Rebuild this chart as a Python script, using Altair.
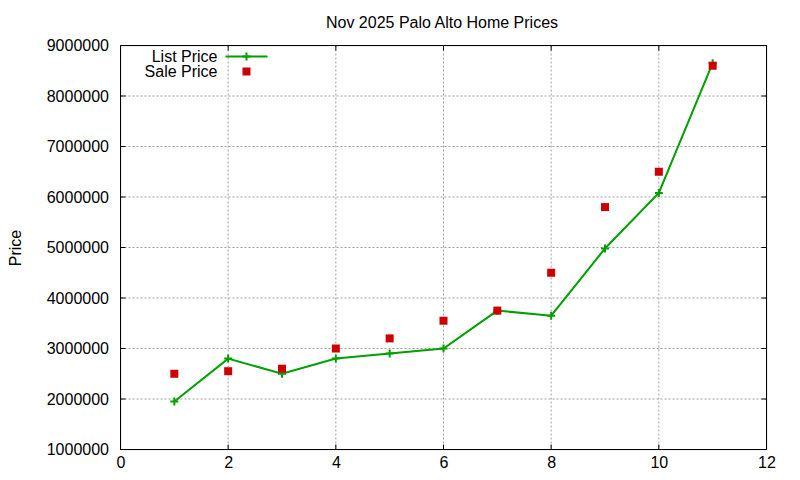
import altair as alt
import pandas as pd

# ---- data ----
house = [1, 2, 3, 4, 5, 6, 7, 8, 9, 10, 11]
list_price = [1950000, 2800000, 2500000, 2800000, 2900000, 3000000,
              3750000, 3650000, 4980000, 6080000, 8650000]
sale_price = [2500000, 2550000, 2600000, 3000000, 3200000, 3550000,
              3750000, 4500000, 5800000, 6500000, 8600000]

x_ticks = [0, 2, 4, 6, 8, 10, 12]
y_ticks = [1000000, 2000000, 3000000, 4000000, 5000000,
           6000000, 7000000, 8000000, 9000000]
x_grid = [2, 4, 6, 8, 10]
y_grid = [2000000, 3000000, 4000000, 5000000, 6000000, 7000000, 8000000]

TITLE = "Nov 2025 Palo Alto Home Prices"
Y_TITLE = "Price"
SERIES = ["List Price", "Sale Price"]

W, H = 646, 404
FONT = "Liberation Sans"
GREEN = "#00a000"
RED = "#cc0000"
PLUS = "M-1,0L1,0M0,-1L0,1"

df = pd.DataFrame({"n": house, "list": list_price, "sale": sale_price})
xt = pd.DataFrame({"v": x_ticks})
yt = pd.DataFrame({"v": y_ticks})
xg = pd.DataFrame({"v": x_grid})
yg = pd.DataFrame({"v": y_grid})

xs = alt.Scale(domain=[0, 12], nice=False, zero=False)
ys = alt.Scale(domain=[1000000, 9000000], nice=False, zero=False)

x_axis = alt.Axis(values=x_ticks, format="d", grid=False, ticks=False, tickSize=0,
                  domain=False, labelPadding=5, labelFontSize=16, labelFont=FONT,
                  labelColor="black", labelFlush=False, title=None)
y_axis = alt.Axis(values=y_ticks, format="d", grid=False, ticks=False, tickSize=0,
                  domain=False, labelPadding=12, labelFontSize=16, labelFont=FONT,
                  labelColor="black", labelFlush=False, title=Y_TITLE, titleFont=FONT,
                  titleFontSize=16, titleFontWeight="normal", titleColor="black",
                  titleAngle=270, titleX=-100, titleY=H / 2, titleAlign="center",
                  titleBaseline="alphabetic")

base = alt.Chart(df)

# axes carrier (invisible points)
axes_layer = base.mark_point(opacity=0).encode(
    x=alt.X("n:Q", scale=xs, axis=x_axis),
    y=alt.Y("list:Q", scale=ys, axis=y_axis),
)

grid_v = alt.Chart(xg).mark_rule(color="#a0a0a0", strokeDash=[2, 2], strokeWidth=1).encode(
    x=alt.X("v:Q", scale=xs), y=alt.value(0), y2=alt.value(H))
grid_h = alt.Chart(yg).mark_rule(color="#a0a0a0", strokeDash=[2, 2], strokeWidth=1).encode(
    y=alt.Y("v:Q", scale=ys), x=alt.value(0), x2=alt.value(W))

TL = 5
tick_b = alt.Chart(xt).mark_rule(color="black", strokeWidth=1).encode(
    x=alt.X("v:Q", scale=xs), y=alt.value(H - TL), y2=alt.value(H))
tick_t = alt.Chart(xt).mark_rule(color="black", strokeWidth=1).encode(
    x=alt.X("v:Q", scale=xs), y=alt.value(0), y2=alt.value(TL))
tick_l = alt.Chart(yt).mark_rule(color="black", strokeWidth=1).encode(
    y=alt.Y("v:Q", scale=ys), x=alt.value(0), x2=alt.value(TL))
tick_r = alt.Chart(yt).mark_rule(color="black", strokeWidth=1).encode(
    y=alt.Y("v:Q", scale=ys), x=alt.value(W - TL), x2=alt.value(W))

one = alt.Chart(pd.DataFrame({"a": [0]}))

# plot border (black frame)
b_top = one.mark_rule(color="black", strokeWidth=1).encode(
    x=alt.value(0), x2=alt.value(W), y=alt.value(0))
b_bot = one.mark_rule(color="black", strokeWidth=1).encode(
    x=alt.value(0), x2=alt.value(W), y=alt.value(H))
b_left = one.mark_rule(color="black", strokeWidth=1).encode(
    y=alt.value(0), y2=alt.value(H), x=alt.value(0))
b_right = one.mark_rule(color="black", strokeWidth=1).encode(
    y=alt.value(0), y2=alt.value(H), x=alt.value(W))

line = base.mark_line(color=GREEN, strokeWidth=2).encode(
    x=alt.X("n:Q", scale=xs), y=alt.Y("list:Q", scale=ys))
plus = base.mark_point(shape=PLUS, size=64, filled=False, stroke=GREEN,
                       strokeWidth=2, opacity=1).encode(
    x=alt.X("n:Q", scale=xs), y=alt.Y("list:Q", scale=ys))
squares = base.mark_square(color=RED, size=64, opacity=1).encode(
    x=alt.X("n:Q", scale=xs), y=alt.Y("sale:Q", scale=ys))

# legend (gnuplot style: text left of sample) and title
leg_t1 = one.mark_text(align="right", baseline="middle", font=FONT, fontSize=16,
                       color="black").encode(x=alt.value(97), y=alt.value(11),
                                             text=alt.value(SERIES[0]))
leg_t2 = one.mark_text(align="right", baseline="middle", font=FONT, fontSize=16,
                       color="black").encode(x=alt.value(97), y=alt.value(26),
                                             text=alt.value(SERIES[1]))
leg_line = one.mark_rule(color=GREEN, strokeWidth=2).encode(
    x=alt.value(105), x2=alt.value(147), y=alt.value(11))
leg_plus = one.mark_point(shape=PLUS, size=64, filled=False, stroke=GREEN,
                          strokeWidth=2, opacity=1).encode(x=alt.value(126), y=alt.value(11))
leg_sq = one.mark_square(color=RED, size=64, opacity=1).encode(
    x=alt.value(126), y=alt.value(26))
title_t = one.mark_text(align="center", baseline="alphabetic", font=FONT, fontSize=16,
                        color="black").encode(x=alt.value(W / 2 - 1.5), y=alt.value(-18),
                                              text=alt.value(TITLE))

chart = alt.layer(
    axes_layer, grid_v, grid_h, tick_b, tick_t, tick_l, tick_r,
    b_top, b_bot, b_left, b_right,
    line, plus, squares, leg_line, leg_plus, leg_sq, leg_t1, leg_t2, title_t,
).properties(
    width=W, height=H,
    autosize=alt.AutoSizeParams(type="none"),
    padding={"left": 112.5, "top": 37.5, "right": 25.5, "bottom": 22.5},
).configure_view(stroke="black", strokeWidth=1).configure(background="white")

chart.save("out.html", embed_options={"renderer": "svg", "actions": False})
